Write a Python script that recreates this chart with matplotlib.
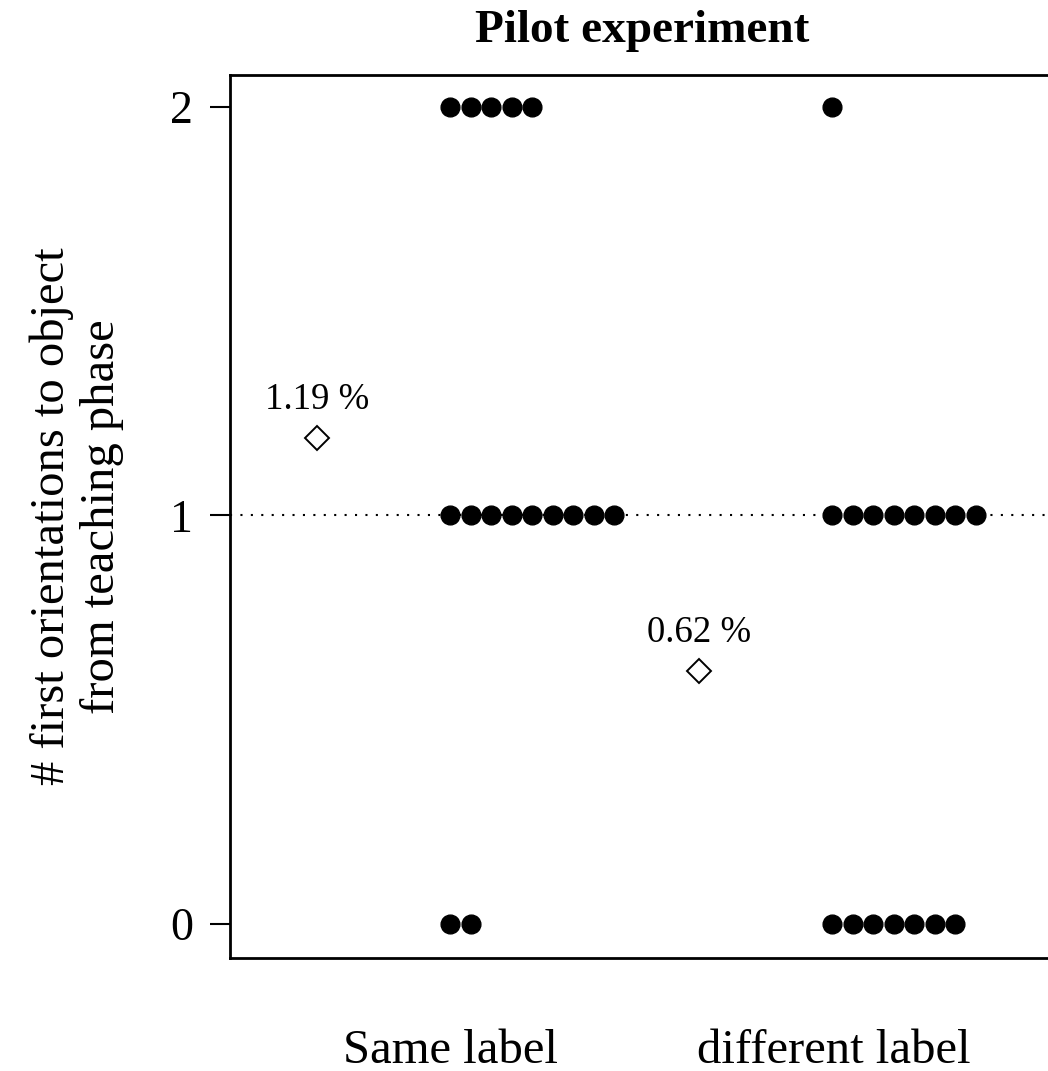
import matplotlib
matplotlib.use("Agg")
import matplotlib.pyplot as plt

# Data
categories = ["Same label", "different label"]
score_levels = [0, 1, 2]
counts_same = [2, 9, 5]        # number of participants at 0, 1, 2
counts_diff = [7, 8, 1]
means = [1.19, 0.62]
mean_labels = ["1.19 %", "0.62 %"]
y_ticks = [0, 1, 2]
title = "Pilot experiment"
ylabel = "# first orientations to object\nfrom teaching phase"

plt.rcParams['font.family'] = ['Liberation Serif', 'DejaVu Serif']

W, H = 1048, 1071
fig = plt.figure(figsize=(W / 100, H / 100), dpi=100)
left, right, top, bottom = 230, 1062, 75, 958
ax = fig.add_axes([left / W, 1 - bottom / H, (right - left) / W, (bottom - top) / H])

stack_step = 0.0537
for gi, counts in enumerate([counts_same, counts_diff]):
    g = gi + 1
    for lev, n in zip(score_levels, counts):
        xs = [g + i * stack_step for i in range(n)]
        ax.plot(xs, [lev] * n, 'o', color='black', markersize=13.5, zorder=3,
                linestyle='none')

mean_offset = -0.348
for gi, (m, lab) in enumerate(zip(means, mean_labels)):
    x = gi + 1 + mean_offset
    ax.plot([x], [m], marker='D', markersize=12, markerfacecolor='white',
            markeredgecolor='black', markeredgewidth=1.4, linestyle='none', zorder=3)
    ax.annotate(lab, (x, m), xytext=(0, 21), textcoords='offset points',
                ha='center', va='baseline', fontsize=26.5)

ax.axhline(1, color='black', linestyle=(0, (1, 4)), linewidth=1.5, zorder=1)

ax.set_xlim(0.424, 1 + (right - 450) / 382)
ax.set_ylim(-0.083, 2.078)
ax.set_yticks(y_ticks)
ax.set_yticklabels([str(t) for t in y_ticks], fontsize=33)
ax.tick_params(axis='y', length=14.5, width=1.5, pad=12, direction='out')
ax.set_xticks([1, 2 + 0.005])
ax.set_xticklabels(categories, fontsize=35)
ax.tick_params(axis='x', length=0, pad=51)
for sp in ax.spines.values():
    sp.set_linewidth(2)

ax.set_ylabel(ylabel, fontsize=35, linespacing=1.2, labelpad=33)
fig.text(642 / W, 1 - 31 / H, title, ha='center', va='center',
         fontsize=34, fontweight='bold')

fig.savefig("out.png", dpi=100)
